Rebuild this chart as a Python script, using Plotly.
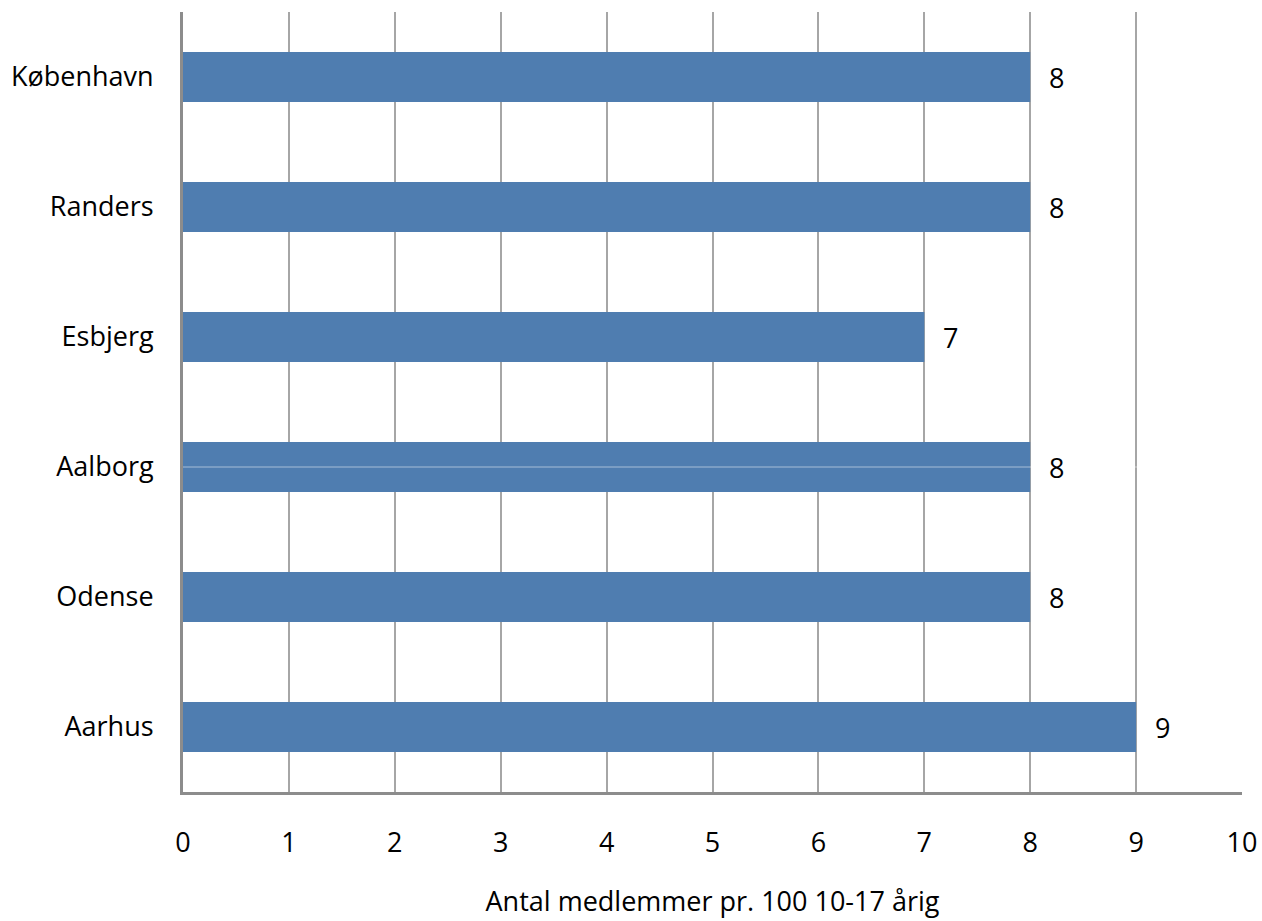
import plotly.graph_objects as go

cities = ["Aarhus", "Odense", "Aalborg", "Esbjerg", "Randers", "København"]
values = [9, 8, 8, 7, 8, 8]
x_ticks = list(range(0, 11))
x_title = "Antal medlemmer pr. 100 10-17 årig"

FONT = "Open Sans"
FS = 27
BAR = "#4F7DB0"
GRID = "#A6A6A6"
AXIS = "#8C8C8C"

fig = go.Figure()
fig.add_trace(go.Bar(
    y=cities, x=values, orientation="h",
    marker=dict(color=BAR, line=dict(width=0)),
    width=0.385, hoverinfo="skip",
))
# faint line through the Aalborg bar, as seen in the reference
fig.add_trace(go.Scatter(
    x=[x_ticks[0], x_ticks[-1]], y=["Aalborg", "Aalborg"], mode="lines",
    line=dict(color="white", width=1), opacity=0.5,
    hoverinfo="skip", showlegend=False,
))
for c, v in zip(cities, values):
    fig.add_annotation(x=v, y=c, text=str(v), showarrow=False,
                       xanchor="left", xshift=17, yshift=0,
                       font=dict(family=FONT, size=FS, color="black"))

fig.update_layout(
    width=1262, height=921,
    margin=dict(l=183, r=20, t=12, b=129),
    paper_bgcolor="white", plot_bgcolor="white",
    showlegend=False,
    font=dict(family=FONT, size=FS, color="black"),
)
fig.update_xaxes(
    range=[0, 10], tickvals=x_ticks, ticktext=[str(t) for t in x_ticks],
    showgrid=True, gridcolor=GRID, gridwidth=2,
    zeroline=False, showline=True, linecolor=AXIS, linewidth=3,
    ticks="", ticklabelstandoff=25,
    title=dict(text=x_title, standoff=33, font=dict(family=FONT, size=FS)),
    fixedrange=True, automargin=False,
)
fig.update_yaxes(
    range=[-0.5, 5.5], showgrid=False, zeroline=False,
    showline=True, linecolor=AXIS, linewidth=3, ticks="",
    ticklabelstandoff=21, fixedrange=True, automargin=False,
)
fig.write_html("out.html", config={"displayModeBar": False},
               post_script="document.body.style.margin='0';")
